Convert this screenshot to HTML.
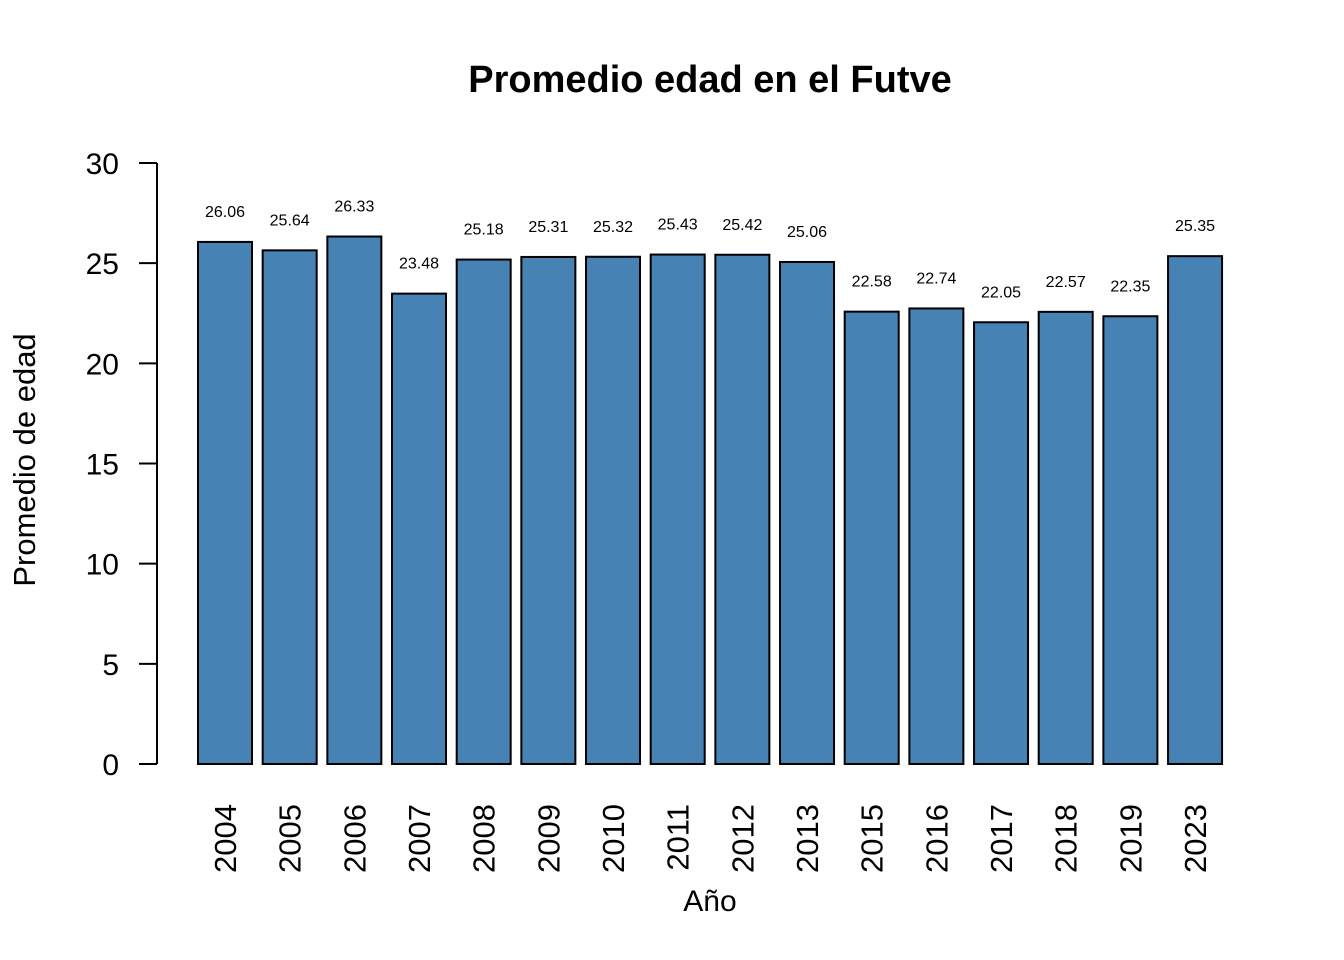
<!DOCTYPE html>
<html><head><meta charset="utf-8"><style>
body{margin:0;background:#fff}
svg{display:block;font-family:"Liberation Sans",Arial,sans-serif}
</style></head><body>
<svg id="c" width="1344" height="960" viewBox="0 0 1344 960">
<text x="710" y="92" text-anchor="middle" font-size="38" font-weight="bold">Promedio edad en el Futve</text>
<text x="710" y="911" text-anchor="middle" font-size="30">Año</text>
<text transform="translate(35,460) rotate(-90)" text-anchor="middle" font-size="31">Promedio de edad</text>
<g id="bars"></g><g id="yaxis"></g><g id="xlabels"></g>
</svg>
<script>
const categories=["2004","2005","2006","2007","2008","2009","2010","2011","2012","2013","2015","2016","2017","2018","2019","2023"];
const values=[26.06,25.64,26.33,23.48,25.18,25.31,25.32,25.43,25.42,25.06,22.58,22.74,22.05,22.57,22.35,25.35];
const yTicks=[0,5,10,15,20,25,30];
const NS="http://www.w3.org/2000/svg";
function y(v){return 764-v*(601/30);}
function xl(i){return 198+i*64.67;}
const bw=54;
function mk(t,a,p){const e=document.createElementNS(NS,t);for(const k in a)e.setAttribute(k,a[k]);p.appendChild(e);return e;}
const bars=document.getElementById('bars'),ya=document.getElementById('yaxis'),xg=document.getElementById('xlabels');
values.forEach((v,i)=>{
 const r=mk('rect',{x:xl(i),y:y(v),width:bw,height:y(0)-y(v),fill:'#4682b4',stroke:'#000','stroke-width':2},bars);
 
 
 const t=mk('text',{x:xl(i)+bw/2,y:y(v)-25,'text-anchor':'middle','font-size':16},bars);
 t.textContent=v.toFixed(2);
 
 
 const c=xl(i)+bw/2;
 const l=mk('text',{transform:`translate(${c+11},804) rotate(-90)`,'text-anchor':'end','font-size':31},xg);
 l.textContent=categories[i];
 
 
});
const ax=mk('line',{x1:157,x2:157,y1:y(30),y2:y(0),stroke:'#000','stroke-width':2},ya);


yTicks.forEach(v=>{
 const tk=mk('line',{x1:139,x2:157,y1:y(v),y2:y(v),stroke:'#000','stroke-width':2},ya);
 
 
 const t=mk('text',{x:119,y:y(v)+11,'text-anchor':'end','font-size':30},ya);
 t.textContent=v;
 
 
});
</script>
</body></html>
